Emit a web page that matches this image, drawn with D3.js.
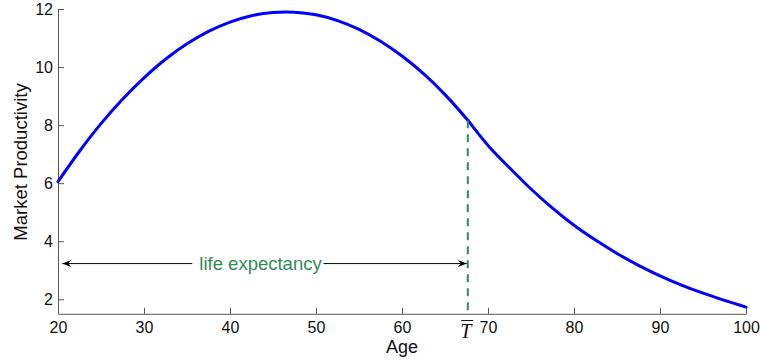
<!DOCTYPE html>
<html>
<head>
<meta charset="utf-8">
<script src="https://cdn.jsdelivr.net/npm/d3@7"></script>
<style>
  body { margin: 0; background: #fff; }
  svg { display: block; font-family: "Liberation Sans", Arial, sans-serif; }
</style>
</head>
<body>
<svg id="chart"></svg>
<script>
// Ages and market productivity
const ages = [20, 22.5, 25, 27.5, 30, 32.5, 35, 37.5, 40, 42.5, 45, 47.5, 50, 52.5, 55, 57.5, 60, 62.5, 65, 67.65,
              70, 72.5, 75, 77.5, 80, 82.5, 85, 87.5, 90, 92.5, 95, 97.5, 100];
const productivity = [6.05, 7.10, 8.05, 8.89, 9.63, 10.27, 10.80, 11.23, 11.55, 11.77, 11.88, 11.89, 11.80, 11.60, 11.30, 10.89, 10.38, 9.77, 9.05, 8.17,
                      7.30, 6.53, 5.80, 5.14, 4.55, 4.04, 3.58, 3.17, 2.81, 2.49, 2.21, 1.96, 1.73];

const xTicks = [20, 30, 40, 50, 60, 70, 80, 90, 100];
const yTicks = [2, 4, 6, 8, 10, 12];

const lifeExpectancy = 67.65;   // T bar
const arrowLevel = 3.23;        // height of the double arrow
const arrowStart = 20.5;
const labelAge = 43.55;         // where "life expectancy" sits

const W = 762, H = 360;
const svg = d3.select("#chart").attr("width", W).attr("height", H);

// Scales
const x = d3.scaleLinear().domain([20, 100]).range([58, 746]);
const y = d3.scaleLinear().domain([1.5, 12]).range([313.8, 9]);

// Axes, ticks pointing inward
const xAxisG = svg.append("g")
    .attr("transform", `translate(0,${y(1.5)})`)
    .call(d3.axisBottom(x).tickValues(xTicks).tickSizeInner(-6).tickSizeOuter(0).tickPadding(8));

const yAxisG = svg.append("g")
    .attr("transform", `translate(${x(20)},0)`)
    .call(d3.axisLeft(y).tickValues(yTicks).tickSizeInner(-6).tickSizeOuter(0).tickPadding(5));

[xAxisG, yAxisG].forEach(g => {
    g.selectAll("path.domain").attr("stroke", "#555");
    g.selectAll(".tick line").attr("stroke", "#555");
    g.selectAll(".tick text").attr("fill", "#111").style("font-size", "16px")
        .style("font-family", "\"Liberation Sans\", Arial, sans-serif");
});

// Axis labels
svg.append("text")
    .attr("x", (x(20) + x(100)) / 2)
    .attr("y", 353)
    .attr("text-anchor", "middle")
    .style("font-size", "18px")
    .attr("fill", "#111")
    .text("Age");

svg.append("text")
    .attr("transform", "rotate(-90)")
    .attr("x", -162)
    .attr("y", 27)
    .attr("text-anchor", "middle")
    .style("font-size", "18.5px")
    .attr("fill", "#111")
    .text("Market Productivity");

// Productivity curve, drawn in two pieces so the bend at T stays sharp
const tIndex = ages.indexOf(lifeExpectancy);
const pts = ages.map((a, i) => [a, productivity[i]]);

const line = d3.line()
    .x(d => x(d[0]))
    .y(d => y(d[1]))
    .curve(d3.curveCatmullRom);

[pts.slice(0, tIndex + 1), pts.slice(tIndex)].forEach(seg => {
    svg.append("path")
        .datum(seg)
        .attr("d", line)
        .attr("fill", "none")
        .attr("stroke", "#0000ff")
        .attr("stroke-width", 3)
        .attr("stroke-linejoin", "round")
        .attr("stroke-linecap", "round");
});

// Dashed life expectancy line
svg.append("line")
    .attr("x1", x(lifeExpectancy)).attr("x2", x(lifeExpectancy))
    .attr("y1", y(productivity[tIndex])).attr("y2", y(1.5))
    .attr("stroke", "#2e8b57")
    .attr("stroke-width", 2)
    .attr("stroke-dasharray", "8,6");

// Double arrow
const ay = y(arrowLevel);
const ax1 = x(arrowStart), ax2 = x(lifeExpectancy) - 1;
svg.append("line")
    .attr("x1", ax1).attr("x2", ax2)
    .attr("y1", ay).attr("y2", ay)
    .attr("stroke", "#000").attr("stroke-width", 1);

const head = (tx, dir) => `M${tx},${ay} L${tx + dir * 9},${ay - 3.5} L${tx + dir * 6},${ay} L${tx + dir * 9},${ay + 3.5} Z`;
svg.append("path").attr("d", head(ax1, 1)).attr("fill", "#000");
svg.append("path").attr("d", head(ax2, -1)).attr("fill", "#000");

// Label on the arrow with a white backing
const lbl = svg.append("text")
    .attr("x", x(labelAge))
    .attr("y", ay + 6.5)
    .attr("text-anchor", "middle")
    .style("font-size", "18.5px")
    .attr("fill", "#2e8b57")
    .text("life expectancy");
const bb = lbl.node().getBBox();
svg.insert("rect", () => lbl.node())
    .attr("x", bb.x - 7).attr("y", ay - 3)
    .attr("width", bb.width + 8).attr("height", 6)
    .attr("fill", "#fff");

// T bar tick label
const tLabel = svg.append("text")
    .attr("x", x(lifeExpectancy) - 2)
    .attr("y", 338)
    .attr("text-anchor", "middle")
    .style("font-family", "\"Liberation Serif\", \"Times New Roman\", serif")
    .style("font-style", "italic")
    .style("font-size", "20px")
    .attr("fill", "#111")
    .text("T");
const tb = tLabel.node().getBBox();
svg.append("line")
    .attr("x1", tb.x + 1).attr("x2", tb.x + tb.width)
    .attr("y1", 320.5).attr("y2", 320.5)
    .attr("stroke", "#111").attr("stroke-width", 1);
</script>
</body>
</html>
